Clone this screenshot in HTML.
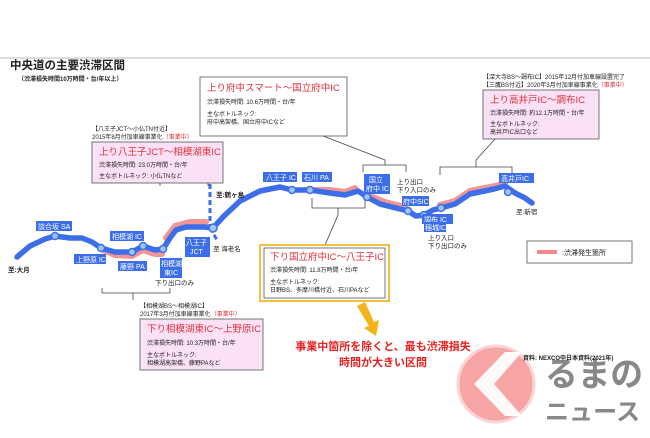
<!DOCTYPE html>
<html><head><meta charset="utf-8"><style>
body{margin:0;background:#fff;}
svg text{font-family:"Liberation Sans","Noto Sans CJK JP",sans-serif;}
</style></head><body>
<svg width="650" height="433" viewBox="0 0 650 433" xmlns="http://www.w3.org/2000/svg">
<rect width="650" height="433" fill="#fff"/>
<line x1="0" y1="58" x2="650" y2="58" stroke="#bbb" stroke-width="1"/>
<text x="10" y="69" font-size="11.5" font-weight="bold" fill="#222">中央道の主要渋滞区間</text>
<text x="18" y="81" font-size="6" font-weight="bold" fill="#222">（渋滞損失時間10万時間・台/年以上）</text>

<g stroke="#444" stroke-width="0.8" fill="none">
<path d="M160,186 V180 H208 V186 M184,180 V174 L158,144"/>
<path d="M363,172 V165 H406 V172 M385,165 V160 L300,127"/>
<path d="M440,175 V167 H512 V175 M476,167 V160 L495,139"/>
<path d="M312,198 V208 H365 V198 M338,208 V215 L325,245"/>
<path d="M102,288 V293 H170 V288 M133,293 V300"/>
</g>

<path d="M210,176 V228 M210,228 L217,240" stroke="#3b6ee8" stroke-width="3" stroke-dasharray="5,3" fill="none"/>

<g stroke="#f08a8a" stroke-width="6" fill="none" stroke-linecap="round" opacity="0.9">
<path d="M103,250 L115,255 L132,256 L143,250 L155,254 L162,254"/>
<path d="M166,238 L175,226 L190,222 L206,222"/>
<path d="M314,190 L330,190 L345,192 L355,188"/>
<path d="M370,196 L385,202 L405,207"/>
<path d="M440,205 L455,201 L470,191 L495,186 L505,184"/>
</g>
<path d="M17,257 L30,246 L45,239 L55,236 L70,238 L82,238 L92,242 L101,248 L115,252 L132,252 L143,246 L155,250 L163,249 L170,238 L176,230 L186,227 L204,227 L213,228 L224,216 L240,201 L260,191 L280,187 L292,190 L310,190 L330,193 L345,195 L358,191 L367,197 L380,204 L400,209 L408,211 L416,216 L424,215 L433,210 L441,208 L455,204 L470,194 L494,189 L505,186 L515,193 L525,198 L532,203" stroke="#3b6ee8" stroke-width="5.5" fill="none" stroke-linejoin="round" stroke-linecap="round"/>
<g fill="#9ec4f0" stroke="#3b6ee8" stroke-width="1.5">
<circle cx="55" cy="236" r="3.5"/><circle cx="101" cy="248" r="3.5"/><circle cx="132" cy="252" r="3.5"/><circle cx="143" cy="246" r="3.5"/><circle cx="163" cy="249" r="3.5"/><circle cx="213" cy="228" r="4"/><circle cx="292" cy="190" r="3.5"/><circle cx="310" cy="190" r="3.5"/><circle cx="367" cy="197" r="3.5"/><circle cx="408" cy="211" r="3.5"/><circle cx="424" cy="215" r="3.5"/><circle cx="441" cy="208" r="3.5"/><circle cx="508" cy="192" r="3.5"/>
</g>

<g font-size="7" fill="#fff">
<rect x="36" y="221" width="36" height="10" fill="#3b6ee8"/><text x="38" y="229">談合坂 SA</text>
<rect x="74" y="254" width="32" height="10" fill="#3b6ee8"/><text x="76" y="262">上野原 IC</text>
<rect x="110" y="231" width="34" height="10" fill="#3b6ee8"/><text x="112" y="239">相模湖 IC</text>
<rect x="118" y="261" width="29" height="10" fill="#3b6ee8"/><text x="120" y="269">藤野 PA</text>
<rect x="160" y="258" width="22" height="20" fill="#3b6ee8"/><text x="161" y="266">相模湖</text><text x="164" y="275">東IC</text>
<rect x="185" y="237" width="25" height="20" fill="#3b6ee8"/><text x="186" y="245">八王子</text><text x="190" y="254">JCT</text>
<rect x="263" y="172" width="34" height="10" fill="#3b6ee8"/><text x="266" y="180">八王子 IC</text>
<rect x="302" y="172" width="30" height="10" fill="#3b6ee8"/><text x="304" y="180">石川 PA</text>
<rect x="364" y="174" width="26" height="20" fill="#3b6ee8"/><text x="369" y="182">国立</text><text x="366" y="191">府中 IC</text>
<rect x="402" y="196" width="27" height="10" fill="#3b6ee8"/><text x="403" y="204">府中SIC</text>
<rect x="422" y="214" width="31" height="10" fill="#3b6ee8"/><text x="424" y="222">調布 IC</text>
<rect x="424" y="222" width="22" height="10" fill="#3b6ee8"/><text x="425" y="230">稲城IC</text>
<rect x="499" y="173" width="35" height="10" fill="#3b6ee8"/><text x="501" y="181">高井戸IC</text>
</g>
<g font-size="6.5" fill="#222">
<text x="8" y="272" font-weight="bold">至:大月</text>
<text x="216" y="197" font-weight="bold">至:鶴ヶ島</text>
<text x="213" y="251">至 海老名</text>
<text x="155" y="285">下り出口のみ</text>
<text x="397" y="184">上り出口</text><text x="397" y="192">下り入口のみ</text>
<text x="428" y="240">上り入口</text><text x="428" y="248">下り出口のみ</text>
<text x="516" y="214">至:新宿</text>
</g>

<rect x="200" y="77" width="147" height="59" fill="#fff" stroke="#555" stroke-width="0.8"/>
<text x="207" y="91" font-size="9.5" fill="#e0303a">上り府中スマート～国立府中IC</text>
<text x="207" y="104" font-size="6" fill="#222">渋滞損失時間: 10.6万時間・台/年</text>
<text x="207" y="116" font-size="6" fill="#222">主なボトルネック:</text>
<text x="207" y="124" font-size="6" fill="#222">府中高架橋、国立府中ICなど</text>

<text x="92" y="131" font-size="6" fill="#222">【八王子JCT～小仏TN付近】</text>
<text x="92" y="139" font-size="6" fill="#222">2015年8月付加車線事業化<tspan fill="#e0303a">（事業中）</tspan></text>
<rect x="92" y="142" width="131" height="41" fill="#fbe1f6" stroke="#555" stroke-width="0.8"/>
<text x="99" y="155" font-size="9.5" fill="#e0303a">上り八王子JCT～相模湖東IC</text>
<text x="99" y="167" font-size="6" fill="#222">渋滞損失時間: 23.0万時間・台/年</text>
<text x="99" y="178" font-size="6" fill="#222">主なボトルネック: 小仏TNなど</text>

<text x="483" y="79" font-size="6" fill="#222">【深大寺BS～調布IC】2015年12月付加車線設置完了</text>
<text x="483" y="87" font-size="6" fill="#222">【三鷹BS付近】2020年3月付加車線事業化<tspan fill="#e0303a">（事業中）</tspan></text>
<rect x="483" y="90" width="116" height="49" fill="#fbe1f6" stroke="#555" stroke-width="0.8"/>
<text x="490" y="103" font-size="9.5" fill="#e0303a">上り高井戸IC～調布IC</text>
<text x="490" y="115" font-size="6" fill="#222">渋滞損失時間: 約12.1万時間・台/年</text>
<text x="490" y="126" font-size="6" fill="#222">主なボトルネック:</text>
<text x="490" y="134" font-size="6" fill="#222">高井戸IC出口など</text>

<rect x="260" y="245" width="129" height="56" fill="#fff" stroke="#f2c040" stroke-width="2"/>
<rect x="264" y="248" width="121" height="50" fill="#fff" stroke="#555" stroke-width="0.8"/>
<text x="270" y="260" font-size="9.5" fill="#e0303a">下り国立府中IC～八王子IC</text>
<text x="270" y="272" font-size="6" fill="#222">渋滞損失時間: 11.8万時間・台/年</text>
<text x="270" y="284" font-size="6" fill="#222">主なボトルネック:</text>
<text x="270" y="292" font-size="6" fill="#222">日野BS、多摩川橋付近、石川PAなど</text>

<text x="140" y="308" font-size="6" fill="#222">【相模湖BS～相模湖IC】</text>
<text x="140" y="316" font-size="6" fill="#222">2017年3月付加車線事業化<tspan fill="#e0303a">（事業中）</tspan></text>
<rect x="140" y="319" width="123" height="51" fill="#fbe1f6" stroke="#555" stroke-width="0.8"/>
<text x="147" y="332" font-size="9.5" fill="#e0303a">下り相模湖東IC～上野原IC</text>
<text x="147" y="345" font-size="6" fill="#222">渋滞損失時間: 10.3万時間・台/年</text>
<text x="147" y="357" font-size="6" fill="#222">主なボトルネック:</text>
<text x="147" y="365" font-size="6" fill="#222">相模湖高架橋、藤野PAなど</text>

<rect x="527" y="241" width="105" height="22" fill="#fff" stroke="#555" stroke-width="0.8"/>
<line x1="537" y1="252" x2="557" y2="252" stroke="#f08a8a" stroke-width="4"/>
<text x="562" y="255" font-size="7" fill="#222">:渋滞発生箇所</text>

<path d="M357,306 L365,302 L374,322 L379,320 L376,336 L364,328 L369,326 Z" fill="#f2b418"/>
<text x="383" y="350" font-size="11" font-weight="bold" fill="#e82020" text-anchor="middle">事業中箇所を除くと、最も渋滞損失</text>
<text x="383" y="366" font-size="11" font-weight="bold" fill="#e82020" text-anchor="middle">時間が大きい区間</text>

<!-- logo -->
<circle cx="496" cy="384" r="38" fill="#f7a4a4" stroke="#fcd4d4" stroke-width="3"/>
<path d="M505,352 L474,384 L505,416 L522,416 L494,384 L522,352 Z" fill="#fff" opacity="0.95"/>
<text x="545" y="386" font-size="34" font-weight="bold" fill="#888" textLength="98" lengthAdjust="spacingAndGlyphs">るまの</text>
<text x="545" y="420" font-size="24" font-weight="bold" fill="#888" textLength="95" lengthAdjust="spacingAndGlyphs">ニュース</text>
<text x="523" y="360" font-size="6" font-weight="bold" fill="#222">資料: NEXCO中日本資料(2021年)</text>
</svg>
</body></html>
